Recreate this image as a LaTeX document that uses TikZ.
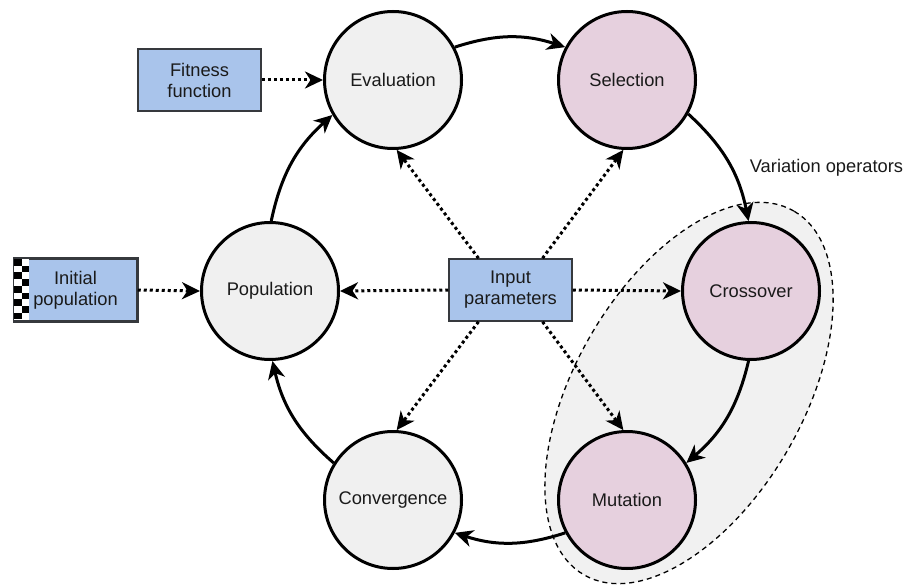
\documentclass[tikz,border=0pt]{standalone}
\usepackage{fontspec}
\setmainfont{Liberation Sans}
\usetikzlibrary{arrows.meta}

\definecolor{boxblue}{HTML}{A9C4EB}
\definecolor{boxline}{HTML}{36393D}
\definecolor{stagegray}{HTML}{F0F0F0}
\definecolor{stagepink}{HTML}{E6D0DE}
\definecolor{groupgray}{HTML}{F1F1F1}
\definecolor{ink}{HTML}{1A1A1A}

\tikzset{
  stage/.style={circle, draw=black, line width=3pt, minimum size=137pt,
    inner sep=0pt, text=ink, fill=stagegray},
  opstage/.style={stage, fill=stagepink},
  inbox/.style={rectangle, draw=boxline, line width=1.5pt, fill=boxblue,
    minimum width=123pt, minimum height=62pt, inner sep=0pt, align=center,
    text=ink},
  tip/.style={-{Stealth[length=18pt, width=17pt, inset=5.5pt]}},
  flow/.style={tip, line width=3pt, draw=black, bend left=18},
  feed/.style={tip, line width=3pt, draw=black, dash pattern=on 3pt off 3pt},
}

\begin{document}
\begin{tikzpicture}[x=1pt, y=1pt, font=\fontsize{18.3}{21}\selectfont]
  \useasboundingbox (0,0) rectangle (907,-585);

  % group outline for the variation operators
  \fill[groupgray, rotate around={60:(689,-393)}] (689,-393) ellipse [x radius=210, y radius=114];
  \draw[black, line width=1.3pt, dash pattern=on 5pt off 4pt, rotate around={60:(689,-393)}]
    (689,-393) ellipse [x radius=210, y radius=114];
  \node[text=ink, anchor=base] (varlabel) at (826.5,-173) {Variation operators};

  % stages of the loop
  \node[stage]   (eval) at (393,-80)  {Evaluation};
  \node[opstage] (sel)  at (627,-80)  {Selection};
  \node[opstage] (cross) at (751,-291) {Crossover};
  \node[opstage] (mut)  at (627,-500) {Mutation};
  \node[stage]   (conv) at (393,-500) {Convergence};
  \node[stage]   (pop)  at (270,-291) {Population};

  % inputs
  \node[inbox] (fit)  at (199.5,-80)  {Fitness\\function};
  \node[inbox] (init) at (75.5,-290)  {Initial\\population};
  \node[inbox] (inp)  at (510.5,-290) {Input\\parameters};

  % checker strip on the initial population box
  \coordinate (chk) at ([shift={(0.75,-0.75)}]init.north west);
  \fill[white] (chk) rectangle ++(15,-60.5);
  \foreach \i in {0,...,8} {
    \foreach \j in {0,1} {
      \pgfmathtruncatemacro{\cellpar}{mod(\i+\j,2)}
      \ifnum\cellpar=0
        \fill[black] ([shift={(\j*7.5,-\i*6.72)}]chk) rectangle ++(7.5,-6.72);
      \fi
    }
  }
  \draw[boxline, line width=1.5pt] (init.north west) rectangle (init.south east);

  % main loop
  \draw[flow] (eval.28)   to (sel.152);
  \draw[flow] (sel.-29)   to (cross.92);
  \draw[flow] (cross.-92) to (mut.32);
  \draw[flow] (mut.-152)  to (conv.-28);
  \draw[flow] (conv.148)  to (pop.-88);
  \draw[flow] (pop.89)    to (eval.-150);

  % inputs feeding the stages
  \draw[feed] (fit.east)  -- (eval.west);
  \draw[feed] (init.east) -- (pop.west);
  \draw[feed] (inp.west)  -- (pop.east);
  \draw[feed] (inp.east)  -- (cross.west);
  \draw[feed] ([xshift=-32pt]inp.north) -- (eval.-87);
  \draw[feed] ([xshift=32pt]inp.north)  -- (sel.-93);
  \draw[feed] ([xshift=-32pt]inp.south) -- (conv.87);
  \draw[feed] ([xshift=32pt]inp.south)  -- (mut.93);
\end{tikzpicture}
\end{document}
